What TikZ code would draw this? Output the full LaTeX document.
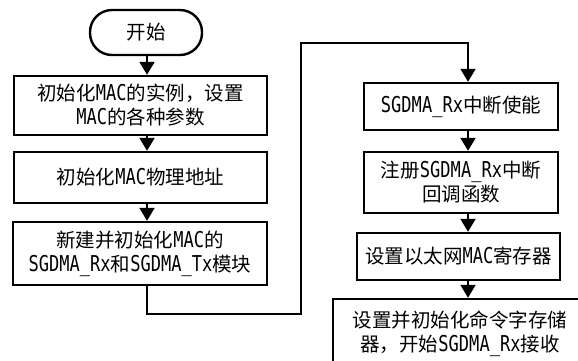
\documentclass[tikz,border=0pt]{standalone}
\usepackage{fontspec}
\setmainfont{Noto Sans CJK SC}
\newfontfamily\latf[Scale=1.12,FakeStretch=0.78]{DejaVu Sans Mono}
\newcommand\mylat[1]{{\latf #1}}
\usetikzlibrary{arrows.meta}
\begin{document}
\begin{tikzpicture}[x=1pt,y=-1pt,
  box/.style={draw,line width=2.4pt,align=center,inner sep=0pt,
    font=\fontsize{19.5}{24}\selectfont},
  conn/.style={line width=2pt},
  arr/.style={conn,-{Triangle[width=15pt,length=13pt]}}]
\clip (0,0) rectangle (578,360);
\fill[white] (0,0) rectangle (578,360);
\node[box,rounded corners=22pt,minimum width=112pt,minimum height=45pt] (start) at (146,32.5) {开始};
\node[box,minimum width=253pt,minimum height=59pt] (b1) at (140.5,105.5) {初始化\mylat{MAC}的实例，设置\\\mylat{MAC}的各种参数};
\node[box,minimum width=253pt,minimum height=51pt] (b2) at (140.5,177.5) {初始化\mylat{MAC}物理地址};
\node[box,minimum width=254pt,minimum height=63pt] (b3) at (140,253.5) {新建并初始化\mylat{MAC}的\\\mylat{SGDMA\_Rx}和\mylat{SGDMA\_Tx}模块};
\node[box,minimum width=194pt,minimum height=47pt] (b4) at (461,106.5) {\mylat{SGDMA\_Rx}中断使能};
\node[box,minimum width=194pt,minimum height=61pt] (b5) at (461,182.5) {注册\mylat{SGDMA\_Rx}中断\\回调函数};
\node[box,minimum width=203pt,minimum height=47pt] (b6) at (458.5,256.5) {设置以太网\mylat{MAC}寄存器};
\node[box,minimum width=254pt,minimum height=70pt] (b7) at (460,334) {设置并初始化命令字存储\\器，开始\mylat{SGDMA\_Rx}接收};
\coordinate (lc) at (147,0);
\coordinate (rc) at (468,0);
\coordinate (c1) at (147,314);
\coordinate (c2) at (301,314);
\coordinate (c3) at (301,43);
\coordinate (c4) at (468,43);
\draw[arr] (start.south -| lc) -- (b1.north -| lc);
\draw[arr] (b1.south -| lc) -- (b2.north -| lc);
\draw[arr] (b2.south -| lc) -- (b3.north -| lc);
\draw[arr] (b3.south -| lc) -- (c1) -- (c2) -- (c3) -- (c4) -- (b4.north -| rc);
\draw[arr] (b4.south -| rc) -- (b5.north -| rc);
\draw[arr] (b5.south -| rc) -- (b6.north -| rc);
\draw[arr] (b6.south -| rc) -- (b7.north -| rc);
\end{tikzpicture}
\end{document}
